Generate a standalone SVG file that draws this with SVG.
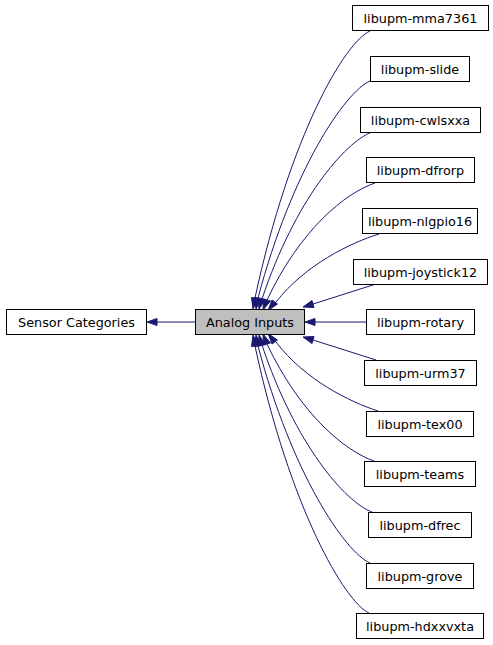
<svg xmlns="http://www.w3.org/2000/svg" width="493" height="645" viewBox="0 0 493 645">
<defs>
<style>
.n rect{fill:#ffffff;stroke:#000000;stroke-width:1}
.n text{font-family:"DejaVu Sans",sans-serif;font-size:12.8px;text-anchor:middle;fill:#000000}
#analog rect{fill:#bfbfbf;stroke:#000000}
.e path{fill:none;stroke:#191970;stroke-width:1}
.e polygon{fill:#191970;stroke:#191970;stroke-width:1}
</style>
</defs>
<rect width="493" height="645" fill="#ffffff"/>
<g class="e" id="connectors">
<path d="M195,322 L157,322"/>
<polygon points="157,318.5 147,322 157,325.5"/>
<path d="M370,31 C345,42 290,135 255,298"/>
<polygon points="251.5,297.5 253,309 258.5,298.5"/>
<path d="M370,81 C345,92 292,170 258,298"/>
<polygon points="254.5,297.5 256,309 261.5,298.5"/>
<path d="M372,132 C345,142 295,200 262,299"/>
<polygon points="258.5,298 259,309 265.5,299.5"/>
<path d="M375,183 C345,193 300,230 267,300"/>
<polygon points="263.5,299 263,310 270.5,301"/>
<path d="M379,234 C350,243 305,265 276,302"/>
<polygon points="272,300 268,310.5 277.5,304"/>
<path d="M376,284 L313,304"/>
<polygon points="312,300.5 303,307 314,307.5"/>
<path d="M366,322 L315,322"/>
<polygon points="315,318.5 305,322 315,325.5"/>
<path d="M376,360 L313,340"/>
<polygon points="314,336.5 303,337 312,343.5"/>
<path d="M378,411 C350,402 305,380 276,342"/>
<polygon points="277.5,340 268,333.5 272,344"/>
<path d="M374,461 C345,451 300,414 267,344"/>
<polygon points="270.5,343 263,334 263.5,345"/>
<path d="M372,512 C345,502 295,444 262,345"/>
<polygon points="265.5,344.5 259,335 258.5,346"/>
<path d="M370,563 C345,552 292,474 258,346"/>
<polygon points="261.5,345.5 256,335 254.5,346.5"/>
<path d="M369,613 C345,602 290,509 255,346"/>
<polygon points="258.5,345.5 253,335 251.5,346.5"/>
</g>
<g class="n" id="sensor"><rect x="6.5" y="309.5" width="140" height="25"/><text x="76.5" y="326.5">Sensor Categories</text></g>
<g class="n" id="analog"><rect x="195.5" y="309.5" width="109" height="25"/><text x="250" y="326.5">Analog Inputs</text></g>
<g class="n" id="mma7361"><rect x="352.5" y="5.5" width="136" height="25"/><text x="420.5" y="22.5">libupm-mma7361</text></g>
<g class="n" id="slide"><rect x="370.5" y="56.5" width="99" height="25"/><text x="420" y="73.5">libupm-slide</text></g>
<g class="n" id="cwlsxxa"><rect x="360.5" y="107.5" width="120" height="25"/><text x="420.5" y="124.5">libupm-cwlsxxa</text></g>
<g class="n" id="dfrorp"><rect x="366.5" y="157.5" width="108" height="25"/><text x="420.5" y="174.5">libupm-dfrorp</text></g>
<g class="n" id="nlgpio16"><rect x="362.5" y="208.5" width="115" height="25"/><text x="420" y="225.5">libupm-nlgpio16</text></g>
<g class="n" id="joystick12"><rect x="353.5" y="259.5" width="134" height="25"/><text x="420.5" y="276.5">libupm-joystick12</text></g>
<g class="n" id="rotary"><rect x="366.5" y="309.5" width="108" height="25"/><text x="420.5" y="326.5">libupm-rotary</text></g>
<g class="n" id="urm37"><rect x="364.5" y="360.5" width="112" height="25"/><text x="420.5" y="377.5">libupm-urm37</text></g>
<g class="n" id="tex00"><rect x="366.5" y="411.5" width="107" height="25"/><text x="420" y="428.5">libupm-tex00</text></g>
<g class="n" id="teams"><rect x="364.5" y="461.5" width="111" height="25"/><text x="420" y="478.5">libupm-teams</text></g>
<g class="n" id="dfrec"><rect x="368.5" y="512.5" width="103" height="25"/><text x="420" y="529.5">libupm-dfrec</text></g>
<g class="n" id="grove"><rect x="366.5" y="563.5" width="107" height="25"/><text x="420" y="580.5">libupm-grove</text></g>
<g class="n" id="hdxxvxta"><rect x="356.5" y="613.5" width="127" height="25"/><text x="420" y="630.5">libupm-hdxxvxta</text></g>
</svg>
